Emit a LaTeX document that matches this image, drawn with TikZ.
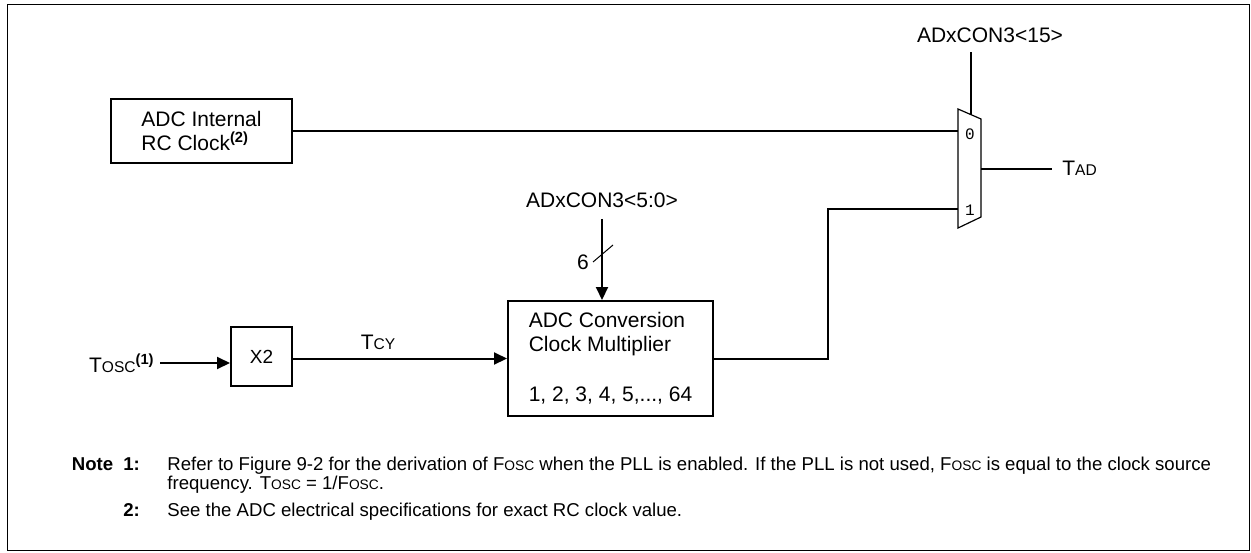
\documentclass[tikz,border=0pt]{standalone}
\usepackage{fontspec}
\setmainfont{Liberation Sans}
\setmonofont{Liberation Mono}
\usepackage{graphicx}
\usetikzlibrary{arrows.meta, positioning, calc}
\newcommand{\lowcap}[1]{\scalebox{0.74}{#1}}

\begin{document}
\begin{tikzpicture}[
    x=0.5pt, y=-0.5pt,
    font=\fontsize{10.5}{12}\selectfont,
    >={Triangle[length=6.5pt, width=6pt]},
    blk/.style={draw, line width=1pt, align=left, inner sep=0pt},
    sig/.style={draw, line width=1pt},
    lab/.style={inner sep=0pt},
    note/.style={inner sep=0pt, anchor=base west, font=\fontsize{9.3}{11}\selectfont},
    notenum/.style={note, font=\fontsize{9.3}{11}\selectfont\bfseries},
  ]
  \useasboundingbox (0,0) rectangle (1251,552);
  \draw[line width=0.7pt] (7.5,4.5) rectangle (1249.5,550.5);
  % ---- blocks
  \node[blk, minimum width=90.5pt, minimum height=32pt] (rcclk) at (201.5,131) {ADC Internal\\RC Clock\textsuperscript{\textbf{(2)}}};
  \node[blk, minimum width=30.5pt, minimum height=29.5pt, font=\fontsize{9.5}{11}\selectfont] (xtwo) at (261.5,356.5) {X2};
  \node[blk, minimum width=102.5pt, minimum height=57.5pt] (mult) at (610.5,358.5) {ADC Conversion\\Clock Multiplier\\[13pt]1, 2, 3, 4, 5,..., 64};
  % ---- mux
  \draw[line width=0.6pt] (958,109) -- (981,119) -- (981,217) -- (958,228) -- cycle;
  \coordinate (mux-in0) at (958,131);
  \coordinate (mux-in1) at (958,209);
  \coordinate (mux-out) at (981,169);
  \coordinate (mux-sel) at (971,114.7);
  \node[lab, font=\ttfamily\fontsize{8}{9}\selectfont] (sel0) at (970,134) {0};
  \node[lab, font=\ttfamily\fontsize{8}{9}\selectfont] (sel1) at (970,210) {1};
  % ---- labels
  \node[lab, anchor=east] (tosc) at (155,363) {T\lowcap{OSC}\textsuperscript{\textbf{(1)}}};
  \node[lab] (tcy) at (378,342) {T\lowcap{CY}};
  \node[lab] (adcon5) at (602,200) {ADxCON3<5:0>};
  \node[lab] (buswidth) at (583,262) {6};
  \node[lab] (adcon15) at (990,35) {ADxCON3<15>};
  \node[lab, anchor=west] (tad) at (1062,168) {T\lowcap{AD}};
  % ---- connectors
  \draw[sig, ->] ([xshift=2.5pt]tosc.east) -- (tosc.east -| xtwo.west);
  \draw[sig, ->] (xtwo.east |- mult.west) -- (mult.west);
  \draw[sig, ->] ([yshift=-5.5pt]adcon5.south) -- (adcon5.south |- mult.north);
  \coordinate (busmark) at (603,253.5);
  \draw[line width=0.5pt] ([shift={(-10,8.5)}]busmark) -- ([shift={(10,-8.5)}]busmark);
  \draw[sig] (rcclk.east |- mux-in0) -- (mux-in0);
  \coordinate (jog) at (828,209);
  \draw[sig] (mult.east) -| (jog) -- (mux-in1);
  \draw[sig] ([yshift=-4.75pt]adcon15.south -| mux-sel) -- (mux-sel);
  \draw[sig] (mux-out) -- ([xshift=-5pt]tad.west |- mux-out);
  % ---- notes
  \node[notenum] (notehd) at (71.5,470) {Note};
  \node[notenum] (n1num) at (123,470) {1:};
  \node[note] (n1a) at (167,470) {Refer to Figure 9-2 for the derivation of F\lowcap{OSC} when the PLL is enabled. If the PLL is not used, F\lowcap{OSC} is equal to the clock source};
  \node[note] (n1b) at (167,489) {frequency. T\lowcap{OSC} = 1/F\lowcap{OSC}.};
  \node[notenum] (n2num) at (123,516) {2:};
  \node[note] (n2a) at (167,516) {See the ADC electrical specifications for exact RC clock value.};
\end{tikzpicture}
\end{document}
